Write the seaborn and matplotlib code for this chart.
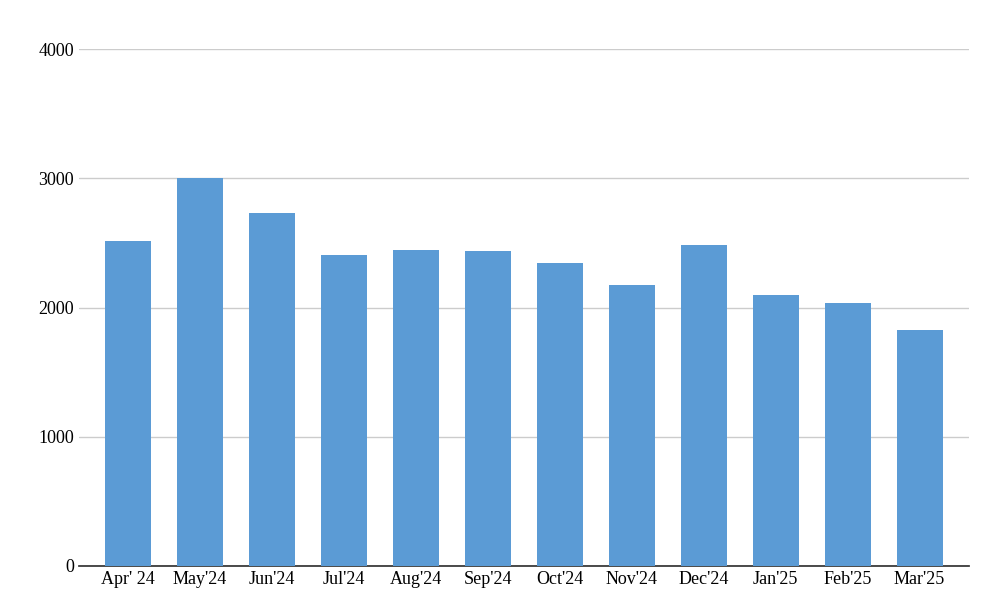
import matplotlib
matplotlib.use("Agg")
import matplotlib.pyplot as plt
import seaborn as sns
import pandas as pd

months = ["Apr' 24", "May'24", "Jun'24", "Jul'24", "Aug'24", "Sep'24",
          "Oct'24", "Nov'24", "Dec'24", "Jan'25", "Feb'25", "Mar'25"]
values = [2515, 3005, 2731, 2406, 2445, 2437, 2344, 2174, 2484, 2097, 2035, 1826]
yticks = [0, 1000, 2000, 3000, 4000]

sns.set_theme(style="white")
plt.rcParams["font.family"] = ["Liberation Serif", "DejaVu Serif"]

df = pd.DataFrame({"month": months, "value": values})

fig, ax = plt.subplots(figsize=(9.84, 6.15), dpi=100)
sns.barplot(data=df, x="month", y="value", color="#5b9bd5", saturation=1,
            width=0.64, linewidth=0, ax=ax, zorder=3)
ax.set_ylim(0, 4000)
ax.set_yticks(yticks)
ax.yaxis.grid(True, color="#cccccc", linewidth=1, zorder=0)
ax.set_xlabel("")
ax.set_ylabel("")
for s in ["top", "right", "left"]:
    ax.spines[s].set_visible(False)
ax.spines["bottom"].set_color("#333333")
ax.tick_params(axis="both", labelsize=13, colors="black", length=0)
ax.set_xlim(-0.68, 11.69)
fig.subplots_adjust(left=0.08, right=0.985, top=0.92, bottom=0.08)
fig.savefig("out.png")
